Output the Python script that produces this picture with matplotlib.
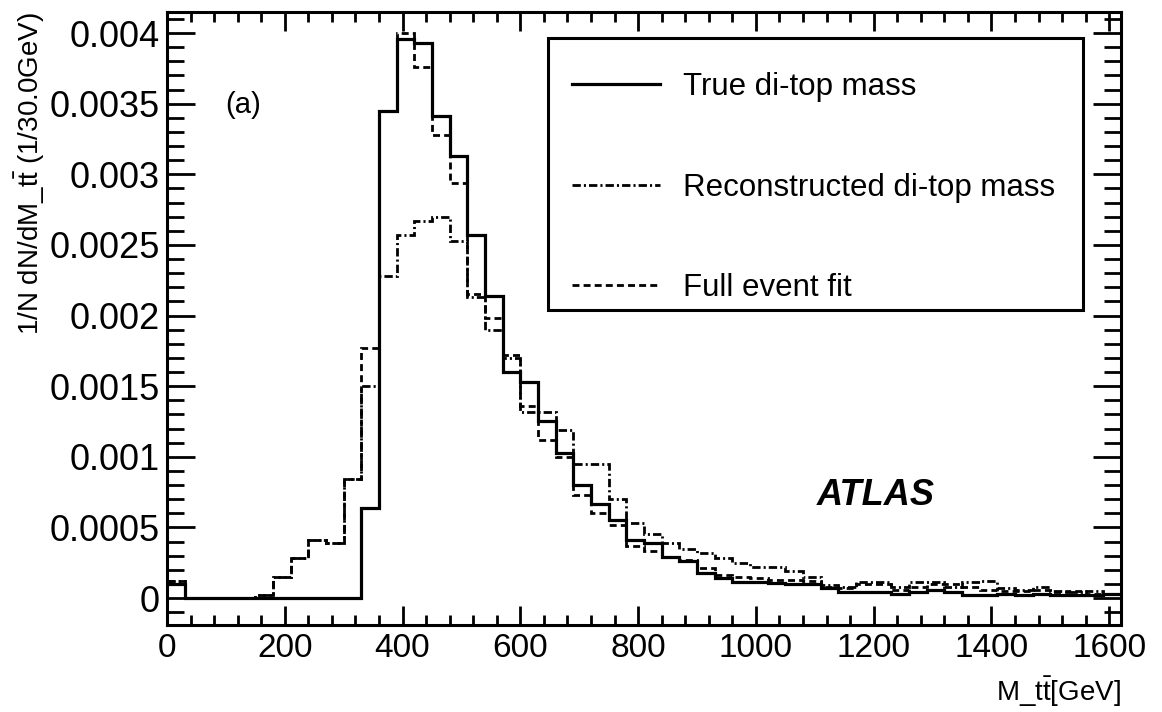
import numpy as np
import matplotlib
matplotlib.use("Agg")
import matplotlib.pyplot as plt
from matplotlib.ticker import MultipleLocator, FuncFormatter
from matplotlib.patches import Rectangle

plt.rcParams['font.family'] = ['Liberation Sans', 'DejaVu Sans']
plt.rcParams['mathtext.fontset'] = 'custom'
plt.rcParams['mathtext.rm'] = 'Liberation Sans'
plt.rcParams['lines.scale_dashes'] = False

# 54 bins of 30 GeV, 0 - 1620 GeV
bin_edges = np.arange(0, 1621, 30)

true_mass = [
    0.00010, 0, 0, 0, 0, 0, 0, 0, 0, 0, 0,
    0.00064, 0.00345, 0.00396, 0.00393, 0.00341, 0.00313, 0.00257, 0.00214, 0.00160, 0.00153,
    0.00125, 0.00103, 0.00080, 0.000665, 0.00055, 0.00041, 0.00039, 0.00029, 0.00026, 0.00018,
    0.00014, 0.00011, 0.00011, 0.000105, 0.00010, 0.00010, 0.00007, 0.000045, 0.000045, 0.000042,
    0.00003, 0.000045, 0.000057, 0.000045, 0.00002, 0.00002, 0.000025, 0.00002, 0.000025, 0.00002,
    0.00002, 0.00002, 0.00003,
]

reco_mass = [
    0.00012, 0, 0, 0, 0, 0.00002, 0.00015, 0.00028, 0.00041, 0.00039, 0.00084,
    0.00150, 0.00228, 0.00257, 0.00267, 0.00270, 0.00253, 0.00213, 0.00190, 0.00170, 0.00132,
    0.00132, 0.00119, 0.00095, 0.00095, 0.00070, 0.00053, 0.00045, 0.00039, 0.00035, 0.00032,
    0.00028, 0.00025, 0.00022, 0.00022, 0.00019, 0.00015, 0.00009, 0.00008, 0.00011, 0.00011,
    0.00008, 0.00011, 0.00011, 0.00008, 0.00011, 0.00012, 0.00007, 0.00006, 0.00008, 0.00005,
    0.00004, 0.00005, 0.00003,
]

full_fit = [
    0.00012, 0, 0, 0, 0, 0.00002, 0.00015, 0.00028, 0.00041, 0.00039, 0.00084,
    0.00177, 0.00345, 0.00400, 0.00376, 0.00328, 0.00294, 0.00215, 0.00198, 0.00172, 0.00136,
    0.00112, 0.00100, 0.00073, 0.00060, 0.00052, 0.00037, 0.00033, 0.00029, 0.00027, 0.00021,
    0.00016, 0.00015, 0.00014, 0.00013, 0.00013, 0.00012, 0.00008, 0.00007, 0.00010, 0.00010,
    0.00006, 0.00008, 0.00010, 0.00010, 0.00008, 0.00006, 0.00005, 0.00005, 0.00006, 0.00004,
    0.00005, 0.00003, 0.00003,
]

labels = ["True di-top mass", "Reconstructed di-top mass", "Full event fit"]

fig = plt.figure(figsize=(11.62, 7.12), dpi=100)
ax = fig.add_axes([0.1437, 0.1222, 0.8210, 0.8609])

ax.stairs(true_mass, bin_edges, baseline=None, color='black', lw=2.3, label=labels[0])
ax.stairs(reco_mass, bin_edges, baseline=None, color='black', lw=2.0,
          linestyle=(0, (6, 2.2, 1.5, 2.2)), label=labels[1])
ax.stairs(full_fit, bin_edges, baseline=None, color='black', lw=2.0,
          linestyle=(0, (5, 3)), label=labels[2])

ax.set_xlim(0, 1620)
ax.set_ylim(-0.000191, 0.004149)

ax.set_xticks(np.arange(0, 1601, 200))
ax.xaxis.set_minor_locator(MultipleLocator(40))
ax.set_yticks(np.arange(0, 0.00401, 0.0005))
ax.yaxis.set_minor_locator(MultipleLocator(0.0001))
ax.yaxis.set_major_formatter(FuncFormatter(lambda v, p: '%g' % v))

ax.tick_params(axis='x', which='major', direction='in', length=14, width=2,
               top=True, labelsize=24, pad=6)
ax.tick_params(axis='x', which='minor', direction='in', length=7.5, width=2, top=True)
ax.tick_params(axis='y', which='major', direction='in', length=20, width=2,
               right=True, labelsize=26, pad=5)
ax.tick_params(axis='y', which='minor', direction='in', length=12, width=2, right=True)

for s in ax.spines.values():
    s.set_linewidth(2.2)

ax.set_xlabel(r"M_t$\bar{\mathrm{t}}$[GeV]", fontsize=20, loc='right', va='center')
ax.xaxis.set_label_coords(1.0, -0.109)
ax.set_ylabel(r"1/N dN/dM_t$\bar{\mathrm{t}}$ (1/30.0GeV)", fontsize=20, loc='top', va='center')
ax.yaxis.set_label_coords(-0.1436, 1.0)

ax.text(0.0797, 0.848, "(a)", transform=ax.transAxes, fontsize=21, ha='center', va='center')
ax.text(0.743, 0.212, "ATLAS", transform=ax.transAxes, fontsize=26,
        fontweight='bold', fontstyle='italic', ha='center', va='center')

# legend box (ROOT style, more padding on top than below)
ax.add_patch(Rectangle((0.3994, 0.5139), 0.5608, 0.4437, transform=ax.transAxes,
                       fill=True, facecolor='white', edgecolor='black', lw=2.2, zorder=4))
leg = ax.legend(loc='upper left', bbox_to_anchor=(0.3994, 0.5139, 0.5608, 0.4274),
                mode='expand', borderaxespad=0, borderpad=0.78, labelspacing=2.25,
                handlelength=2.8, handletextpad=0.75, fontsize=22.5, frameon=False)
leg.set_zorder(5)

fig.savefig("out.png", dpi=100)
